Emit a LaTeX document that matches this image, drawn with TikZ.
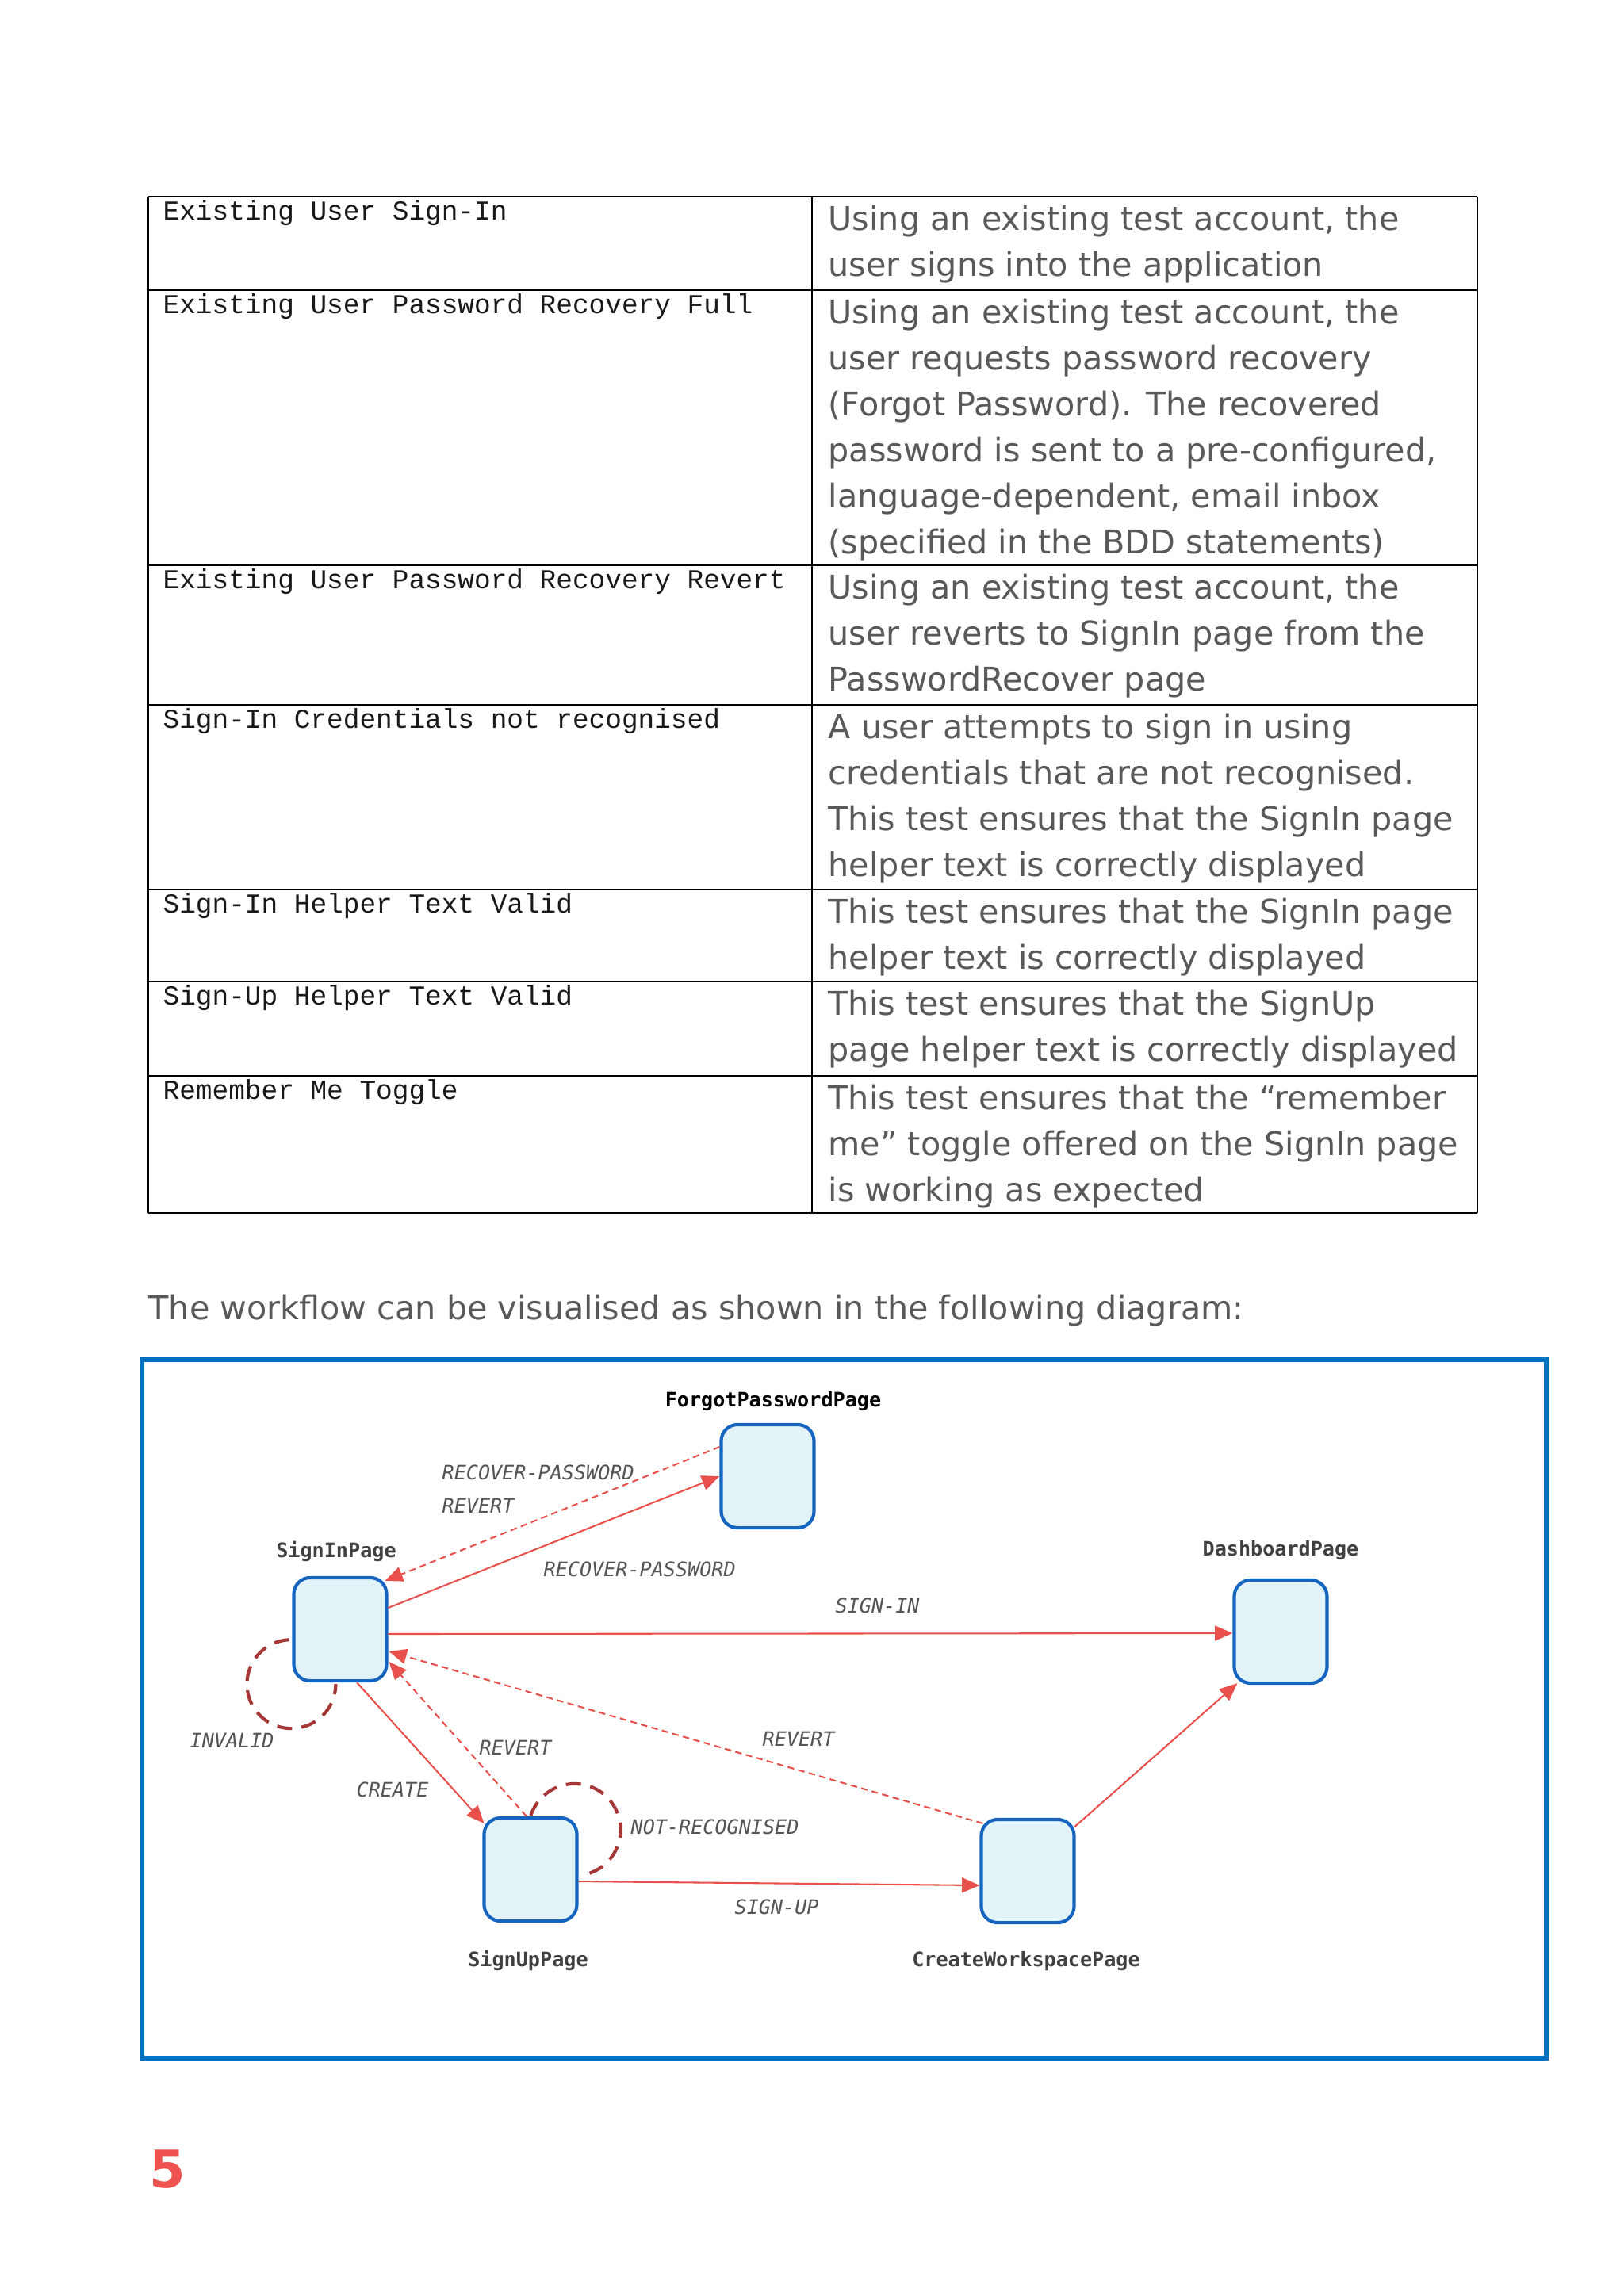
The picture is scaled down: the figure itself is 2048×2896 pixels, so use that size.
\documentclass[tikz,border=0pt]{standalone}
\usepackage{fontspec}
\setmainfont{DejaVu Sans}
\newfontfamily\tabmono{Liberation Mono}
\newfontfamily\dmono{DejaVu Sans Mono}
\usetikzlibrary{arrows.meta,calc}
\definecolor{tblgray}{RGB}{89,89,89}
\definecolor{frameblue}{RGB}{0,112,192}
\definecolor{boxblue}{RGB}{21,101,192}
\definecolor{boxfill}{RGB}{225,243,246}
\definecolor{edgered}{RGB}{232,80,76}
\definecolor{loopred}{RGB}{165,55,55}
\definecolor{lblgray}{RGB}{64,64,64}
\definecolor{edgelbl}{RGB}{85,85,85}
\definecolor{numred}{RGB}{238,83,80}
\newcommand\celllines[4]{%
  \foreach \ln [count=\k from 0] in {#4}{\node[rtxt, name=#1-\k] at (#2,{#3+58*\k}) {\ln};}}
\begin{document}
\begin{tikzpicture}[x=0.2905pt,y=-0.2905pt,
  pagebox/.style={draw=boxblue, fill=boxfill, line width=1.2pt, rounded corners=6pt,
    minimum width=34pt, minimum height=37.8pt, inner sep=0pt},
  pagelbl/.style={font=\dmono\bfseries\fontsize{7.3}{8}\selectfont, text=lblgray, anchor=base, inner sep=0pt},
  elbl/.style={font=\dmono\itshape\fontsize{7.3}{8}\selectfont, text=edgelbl, anchor=base west, inner sep=0pt},
  trans/.style={draw=edgered, line width=0.6pt, -{Triangle[length=6.5pt,width=5.5pt]}},
  back/.style={trans, dash pattern=on 2.4pt off 1.6pt},
  selfloop/.style={draw=loopred, line width=1.2pt, dash pattern=on 5.5pt off 3.5pt},
  rtxt/.style={font=\fontsize{12}{14}\selectfont, text=tblgray, anchor=base west, inner sep=0pt},
  ltxt/.style={font=\tabmono\fontsize{10}{12}\selectfont, text=black!90, anchor=base west, inner sep=0pt},
  hline/.style={line width=0.8pt, draw=black},
  vline/.style={line width=0.5pt, draw=black}
]
\useasboundingbox (0,0) rectangle (2048,2896);
\fill[white] (0,0) rectangle (2048,2896);

% ---------- table ----------
\foreach \yy in {248,366,713,889,1122,1238,1357,1530}
  \draw[hline] (187,\yy) -- (1863,\yy);
\foreach \xx in {187,1024,1863}
  \draw[vline] (\xx,248) -- (\xx,1530);

\node[ltxt] (l1) at (205,277) {Existing User Sign-In};
\node[ltxt] (l2) at (205,395) {Existing User Password Recovery Full};
\node[ltxt] (l3) at (205,742) {Existing User Password Recovery Revert};
\node[ltxt] (l4) at (205,918) {Sign-In Credentials not recognised};
\node[ltxt] (l5) at (205,1151) {Sign-In Helper Text Valid};
\node[ltxt] (l6) at (205,1267) {Sign-Up Helper Text Valid};
\node[ltxt] (l7) at (205,1386) {Remember Me Toggle};

\celllines{r1}{1044}{290}{{Using an existing test account, the},{user signs into the application}}
\celllines{r2}{1044}{408}{{Using an existing test account, the},{user requests password recovery},{(Forgot Password). The recovered},{password is sent to a pre-configured,},{language-dependent, email inbox},{(specified in the BDD statements)}}
\celllines{r3}{1044}{755}{{Using an existing test account, the},{user reverts to SignIn page from the},{PasswordRecover page}}
\celllines{r4}{1044}{931}{{A user attempts to sign in using},{credentials that are not recognised.},{This test ensures that the SignIn page},{helper text is correctly displayed}}
\celllines{r5}{1044}{1164}{{This test ensures that the SignIn page},{helper text is correctly displayed}}
\celllines{r6}{1044}{1280}{{This test ensures that the SignUp},{page helper text is correctly displayed}}
\celllines{r7}{1044}{1399}{{This test ensures that the “remember},{me” toggle offered on the SignIn page},{is working as expected}}

\node[rtxt] (intro) at (187,1664) {The workflow can be visualised as shown in the following diagram:};

% ---------- diagram frame ----------
\draw[draw=frameblue, fill=white, line width=1.8pt] (179,1715) rectangle (1950,2596);

% ---------- pages ----------
\node[pagebox] (fp) at (968,1862) {};
\node[pagebox] (si) at (429,2055) {};
\node[pagebox] (su) at (669,2358) {};
\node[pagebox] (db) at (1615,2058) {};
\node[pagebox] (cw) at (1296,2360) {};

\node[pagelbl, text=black] (fpl) at (975,1774) {ForgotPasswordPage};
\node[pagelbl] (sil) at (424,1964) {SignInPage};
\node[pagelbl] (dbl) at (1615,1962) {DashboardPage};
\node[pagelbl] (sul) at (666,2480) {SignUpPage};
\node[pagelbl] (cwl) at (1294,2480) {CreateWorkspacePage};

% ---------- transitions ----------
\draw[trans] ($(si.east)+(0,-27)$) -- (fp.west);
\draw[back] ($(fp.west)+(0,-37)$) -- ($(si.north east)+(-4,6)$);
\draw[trans] ($(si.east)+(0,6)$) -- ($(db.west)+(0,2)$);
\draw[trans] ($(si.south)+(21,0)$) -- ($(su.north west)+(2,9)$);
\draw[back] ($(su.north)+(-5,0)$) -- ($(si.east)+(1,41)$);
\draw[back] ($(cw.north west)+(4,7)$) -- ($(si.east)+(1,28)$);
\draw[trans] ($(su.east)+(0,15)$) -- ($(cw.west)+(0,18)$);
\draw[trans] ($(cw.north east)+(-1,11)$) -- ($(db.south west)+(6,-2)$);

% self loops
\draw[selfloop] ($(si.south west)+(-1,2)$) ++(267:56) arc[start angle=267, end angle=0, radius=56];
\draw[selfloop] ($(su.north east)+(-5,17)$) ++(198:58) arc[start angle=198, end angle=443, radius=58];

% ---------- edge labels ----------
\node[elbl] (e1) at (557,1866) {RECOVER-PASSWORD};
\node[elbl] (e2) at (557,1908) {REVERT};
\node[elbl] (e3) at (685,1988) {RECOVER-PASSWORD};
\node[elbl] (e4) at (1053,2034) {SIGN-IN};
\node[elbl] (e5) at (239,2204) {INVALID};
\node[elbl] (e6) at (604,2213) {REVERT};
\node[elbl] (e7) at (961,2202) {REVERT};
\node[elbl] (e8) at (449,2266) {CREATE};
\node[elbl] (e9) at (795,2313) {NOT-RECOGNISED};
\node[elbl] (e10) at (926,2414) {SIGN-UP};

% ---------- page number ----------
\node[font=\bfseries\fontsize{19}{22}\selectfont, text=numred, anchor=base west, inner sep=0pt] (pnum) at (188,2759) {5};
\end{tikzpicture}
\end{document}
